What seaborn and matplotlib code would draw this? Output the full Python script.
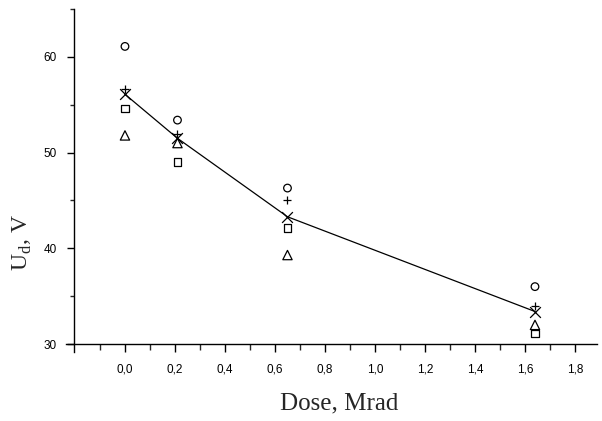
import matplotlib
matplotlib.use("Agg")
import matplotlib.pyplot as plt
from matplotlib.ticker import FixedLocator
import seaborn as sns
import pandas as pd

# Dose points, Mrad
dose = [0.0, 0.21, 0.65, 1.64]

# Breakdown voltage U_d (V) for the individual samples
u_circle = [61.1, 53.4, 46.3, 36.0]
u_plus = [56.7, 52.0, 45.0, 34.0]
u_square = [54.6, 49.0, 42.1, 31.1]
u_triangle = [51.8, 51.0, 39.3, 32.0]
# Average values
u_mean = [56.1, 51.5, 43.3, 33.4]

x_ticks = [0.0, 0.2, 0.4, 0.6, 0.8, 1.0, 1.2, 1.4, 1.6, 1.8]
x_tick_labels = ["0,0", "0,2", "0,4", "0,6", "0,8", "1,0", "1,2", "1,4", "1,6", "1,8"]
y_ticks = [30, 40, 50, 60]
y_tick_labels = ["30", "40", "50", "60"]

sns.set_theme(style="ticks")
plt.rcParams["font.family"] = ["Liberation Sans", "DejaVu Sans"]

fig = plt.figure(figsize=(6.02, 4.21), dpi=100)
ax = fig.add_axes([0.110, 0.1646, 0.8825, 0.8138])

df = pd.DataFrame({"dose": dose, "mean": u_mean})
sns.lineplot(data=df, x="dose", y="mean", ax=ax, color="black", linewidth=0.9)

filled = [(u_circle, "o", 30), (u_square, "s", 30), (u_triangle, "^", 45)]
for vals, mk, size in filled:
    sns.scatterplot(x=dose, y=vals, ax=ax, marker=mk, s=size,
                    facecolor="none", edgecolor="black", linewidth=0.9, zorder=3)

sns.scatterplot(x=dose, y=u_plus, ax=ax, marker="+", s=40,
                color="black", linewidth=0.9, zorder=3)
sns.scatterplot(x=dose, y=u_mean, ax=ax, marker="x", s=60,
                color="black", linewidth=0.9, zorder=3)

ax.set_xlim(-0.235, 1.89)
ax.set_ylim(29.2, 65)

for side in ("top", "right"):
    ax.spines[side].set_visible(False)
ax.spines["left"].set_position(("data", -0.205))
ax.spines["bottom"].set_position(("data", 30))
for side in ("left", "bottom"):
    ax.spines[side].set_linewidth(1.0)
    ax.spines[side].set_color("black")
ax.spines["left"].set_bounds(29.2, 65)

ax.xaxis.set_major_locator(FixedLocator(x_ticks))
ax.set_xticklabels(x_tick_labels)
ax.xaxis.set_minor_locator(FixedLocator([-0.1, 0.1, 0.3, 0.5, 0.7, 0.9, 1.1, 1.3, 1.5, 1.7]))
ax.yaxis.set_major_locator(FixedLocator(y_ticks))
ax.set_yticklabels(y_tick_labels)
ax.yaxis.set_minor_locator(FixedLocator([35, 45, 55, 65]))

ax.tick_params(axis="x", which="major", direction="out", length=6, width=1,
               pad=8, labelsize=8.5, colors="black")
ax.tick_params(axis="x", which="minor", direction="out", length=4, width=1)
ax.tick_params(axis="y", which="major", direction="out", length=5, width=1,
               pad=7, labelsize=8.5, colors="black")
ax.tick_params(axis="y", which="minor", direction="out", length=3, width=1)

ax.set_xlabel("Dose, Mrad", fontsize=18, family=["Liberation Serif"])
ax.set_ylabel(r"U$_\mathregular{d}$, V", fontsize=17, family=["Liberation Serif"])
ax.xaxis.set_label_coords((339 - 66.25) / 531.25, -0.12)
ax.yaxis.set_label_coords((34 - 66.25) / 531.25, (351.7 - 243) / 342.6)

fig.savefig("out.png", dpi=100, facecolor="white")
